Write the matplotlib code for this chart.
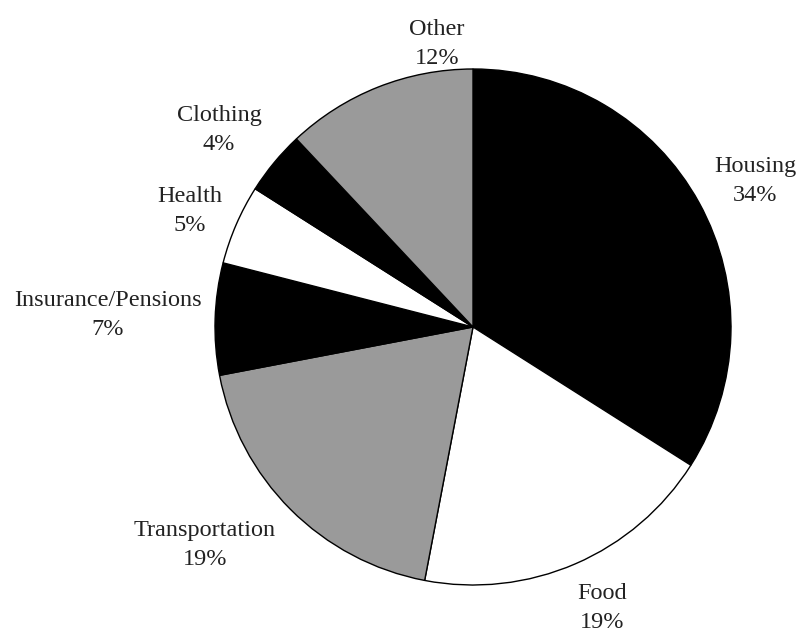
import matplotlib.pyplot as plt

categories = ["Housing", "Food", "Transportation", "Insurance/Pensions",
              "Health", "Clothing", "Other"]
shares = [34, 19, 19, 7, 5, 4, 12]
slice_colors = ["black", "white", "#9a9a9a", "black", "white", "black", "#9a9a9a"]

# label centres in pixel coordinates (x right, y down)
label_pos = [(755, 181), (602, 608), (205, 545), (108, 315),
             (190, 211), (219, 130), (437, 44)]

W, H = 797, 632
fig = plt.figure(figsize=(W / 100, H / 100), dpi=100)
ax = fig.add_axes([0, 0, 1, 1])

ax.pie(shares, colors=slice_colors, startangle=90, counterclock=False,
       center=(473, H - 327), radius=258,
       wedgeprops=dict(edgecolor="black", linewidth=1.0))

ax.set_xlim(0, W)
ax.set_ylim(0, H)
ax.set_aspect("auto")
ax.axis("off")

for name, pct, (x, y) in zip(categories, shares, label_pos):
    ax.text(x, H - y, f"{name}\n{pct}%", ha="center", va="center",
            fontsize=17.5, family="Liberation Serif", color="#222222",
            linespacing=1.45)

fig.savefig("out.png", dpi=100, facecolor="white")
